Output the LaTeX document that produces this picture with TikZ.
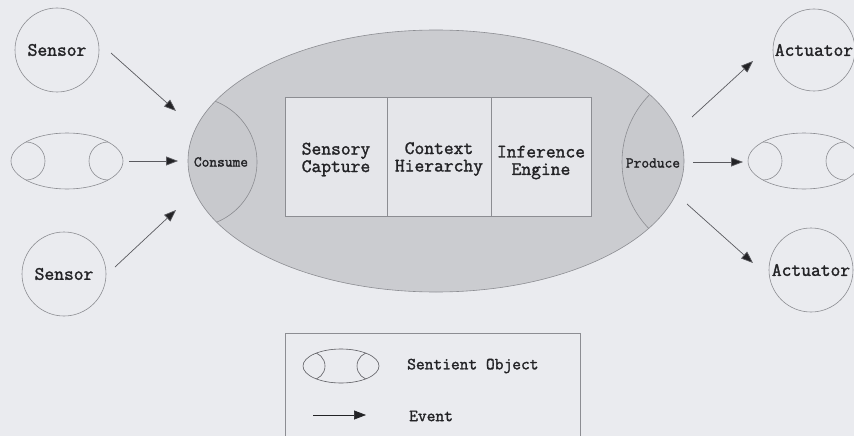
\documentclass[tikz,border=0pt]{standalone}
\usepackage{fontspec}
\setmainfont{Latin Modern Mono}[AutoFakeBold=1.6]
\usetikzlibrary{shapes.geometric,arrows.meta}

\definecolor{paper}{RGB}{234,235,239}
\definecolor{shell}{RGB}{203,204,208}
\definecolor{zonefill}{RGB}{200,201,205}
\definecolor{panel}{RGB}{229,230,234}
\definecolor{thin}{RGB}{140,141,146}
\definecolor{ink}{RGB}{35,35,38}
\definecolor{shaft}{RGB}{90,90,95}

\tikzset{
  thinline/.style={draw=thin, line width=0.6pt},
  ring/.style={circle, thinline, minimum size=#1, inner sep=0pt,
    font=\bfseries\fontsize{19}{19}\selectfont, text=ink},
  sentient/.style n args={4}{ellipse, thinline, minimum width=#1, minimum height=#2,
    inner sep=0pt,
    path picture={
      \draw[thin, line width=0.6pt] ([xshift=-#3]path picture bounding box.center) circle[radius=#4];
      \draw[thin, line width=0.6pt] ([xshift=#3]path picture bounding box.center) circle[radius=#4];
    }},
  evt/.style={draw=shaft, line width=0.7pt, -{Triangle[length=12pt,width=9pt,fill=ink]}},
  stage/.style={rectangle, thinline, fill=panel, minimum width=#1, minimum height=119pt,
    inner sep=0pt},
  stagetext/.style={align=center, inner sep=0pt, text=ink,
    font=\bfseries\fontsize{19}{17.5}\selectfont},
  zone/.style={font=\bfseries\fontsize{15}{15}\selectfont, text=ink, inner sep=0pt},
  legendtext/.style={font=\bfseries\fontsize{17}{17}\selectfont, text=ink, anchor=west, inner sep=0pt},
}

\begin{document}
\begin{tikzpicture}[x=1pt, y=-1pt]
  \fill[paper] (0,0) rectangle (854,436);
  \clip (0,0) rectangle (854,436);

  % sentient object core with its consume and produce zones
  \node[ellipse, fill=shell, thinline, minimum width=496pt, minimum height=262pt, inner sep=0pt,
    path picture={
      \draw[thin, line width=0.6pt, fill=zonefill]
        ([xshift=-244pt,yshift=-1pt]path picture bounding box.center) circle[radius=65pt];
      \draw[thin, line width=0.6pt, fill=zonefill]
        ([xshift=282pt,yshift=-1pt]path picture bounding box.center) circle[radius=96pt];
    }] (obj) at (436,161) {};

  \node[zone] (cons) at (221,162) {Consume};
  \node[zone] (prod) at (653,163) {Produce};

  % internal stages
  \node[stage=102pt] (cap) at (336,156.5) {};
  \node[stage=104pt] (ctx) at (439,156.5) {};
  \node[stage=100pt] (inf) at (541,156.5) {};
  \node[stagetext] (captext) at (336,159.5) {Sensory\\Capture};
  \node[stagetext] (ctxtext) at (439,159) {Context\\Hierarchy};
  \node[stagetext] (inftext) at (541,162.5) {Inference\\Engine};

  % producers on the left
  \node[ring=84pt] (s1) at (57,50) {Sensor};
  \node[sentient={112pt}{56pt}{41pt}{19pt}] (soL) at (67,161) {};
  \node[ring=84pt] (s2) at (64,274) {Sensor};

  % consumers on the right
  \node[ring=82pt] (a1) at (814,50) {Actuator};
  \node[sentient={112pt}{56pt}{41pt}{19pt}] (soR) at (804,161) {};
  \node[ring=84pt] (a2) at (811,270) {Actuator};

  % event end points
  \coordinate (in1a) at (111,53);  \coordinate (in1b) at (176,111);
  \coordinate (in2a) at (129,161); \coordinate (in2b) at (178,161);
  \coordinate (in3a) at (115,267); \coordinate (in3b) at (176,210);
  \coordinate (out1a) at (692,117); \coordinate (out1b) at (753,61);
  \coordinate (out2a) at (693,162); \coordinate (out2b) at (743,162);
  \coordinate (out3a) at (687,204); \coordinate (out3b) at (753,263);

  \draw[evt] (in1a) -- (in1b);
  \draw[evt] (in2a) -- (in2b);
  \draw[evt] (in3a) -- (in3b);
  \draw[evt] (out1a) -- (out1b);
  \draw[evt] (out2a) -- (out2b);
  \draw[evt] (out3a) -- (out3b);

  % legend
  \node[rectangle, thinline, fill=paper, minimum width=295pt, minimum height=120pt,
    inner sep=0pt, anchor=north west] (key) at (285,333) {};
  \node[sentient={76pt}{34pt}{30pt}{14pt}, draw=shaft] (keyso) at (341,366) {};
  \node[legendtext] (keysotext) at (407,366) {Sentient Object};
  \coordinate (keyevta) at (313,415);
  \coordinate (keyevtb) at (366,415);
  \draw[evt, draw=ink] (keyevta) -- (keyevtb);
  \node[legendtext] (keyevttext) at (409,416) {Event};
\end{tikzpicture}
\end{document}
